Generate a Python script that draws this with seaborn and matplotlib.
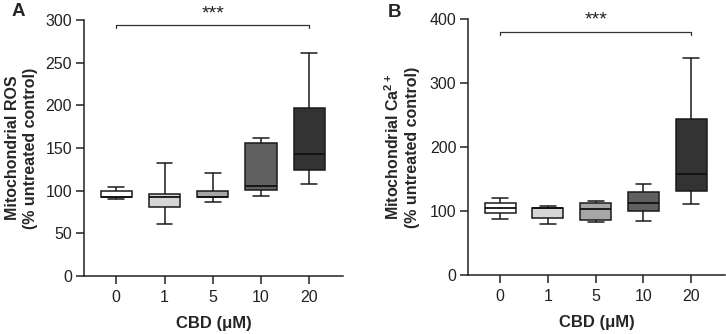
import matplotlib.pyplot as plt
import pandas as pd
import seaborn as sns

# CBD doses (uM) and box summaries: [min, q1, median, q3, max]
doses = ['0', '1', '5', '10', '20']
ros_stats = [
    [90.5, 92.1, 92.5, 99.9, 103.8],
    [60.9, 80.8, 92.5, 96.0, 132.3],
    [86.2, 92.9, 93.2, 99.1, 120.6],
    [94.0, 100.8, 106.1, 155.7, 161.5],
    [108.0, 123.7, 143.2, 196.6, 261.8],
]
ca_stats = [
    [87.6, 97.5, 104.3, 112.0, 120.5],
    [79.8, 88.7, 105.5, 105.5, 108.5],
    [82.4, 86.0, 102.7, 112.0, 116.0],
    [84.5, 100.6, 112.0, 129.3, 141.8],
    [111.0, 131.4, 157.5, 244.0, 339.5],
]
box_colors = ['#ffffff', '#d6d6d6', '#a6a6a6', '#606060', '#333333']


def to_frame(stats):
    rows = []
    for d, vals in zip(doses, stats):
        for v in vals:
            rows.append({'dose': d, 'value': v})
    return pd.DataFrame(rows)


sns.set_style('ticks')
plt.rcParams['font.family'] = ['Liberation Sans', 'DejaVu Sans']
plt.rcParams['mathtext.fontset'] = 'custom'
plt.rcParams['mathtext.rm'] = 'Liberation Sans'
plt.rcParams['mathtext.bf'] = 'Liberation Sans:bold'


def settings_plot(ax, ymax, step):
    ax.spines['right'].set_visible(False)
    ax.spines['top'].set_visible(False)
    for s in ['left', 'bottom']:
        ax.spines[s].set_linewidth(1.1)
        ax.spines[s].set_color('#222222')
    ax.set_ylim(0, ymax)
    ax.set_yticks(range(0, ymax + 1, step))
    ax.set_xlim(-0.67, 4.7)
    ax.tick_params(axis='both', length=6, width=1.1, labelsize=11.5,
                   color='#222222', labelcolor='#222222', pad=2.5)
    ax.tick_params(axis='x', pad=4)
    return ax


def draw_panel(ax, stats, ymax, step, ylabel, bracket_y, letter, lx, ly, ycx):
    data = to_frame(stats)
    sns.boxplot(data=data, x='dose', y='value', hue='dose', order=doses,
                palette=box_colors, legend=False, whis=(0, 100), width=0.65,
                linewidth=1.1, linecolor='#1a1a1a', ax=ax,
                medianprops={'color': '#111111', 'linewidth': 1.3},
                capwidths=0.33)
    settings_plot(ax, ymax, step)
    ax.set_xlabel('CBD (\u03bcM)', fontsize=12, fontweight='bold', labelpad=8)
    ax.set_ylabel(ylabel, fontsize=11.5, fontweight='bold', linespacing=1.25)
    ax.yaxis.set_label_coords(ycx, 0.5)
    # significance bracket 0 vs 20
    tick = ymax * 0.011
    ax.plot([0, 0, 4, 4], [bracket_y - tick, bracket_y, bracket_y, bracket_y - tick],
            color='#333333', lw=0.9, clip_on=False)
    ax.text(2, bracket_y + ymax * 0.012, '***', ha='center', va='bottom',
            fontsize=14, color='#222222')
    ax.text(lx, ly, letter, transform=ax.transAxes, fontsize=13.5,
            fontweight='bold', ha='right', va='top')


fig = plt.figure(figsize=(7.26, 3.34), dpi=100, facecolor='white')
ax1 = fig.add_axes([0.1157, 0.1737, 0.3567, 0.766])
ax2 = fig.add_axes([0.645, 0.1766, 0.353, 0.7656])

draw_panel(ax1, ros_stats, 300, 50,
           'Mitochondrial ROS\n(% untreated control)', 294, 'A', -0.228, 1.066, -0.178)
draw_panel(ax2, ca_stats, 400, 100,
           'Mitochondrial Ca$^{\\mathbf{2+}}$\n(% untreated control)', 380.5, 'B',
           -0.26, 1.06, -0.188)

plt.savefig('out.png', dpi=100, facecolor='white')
